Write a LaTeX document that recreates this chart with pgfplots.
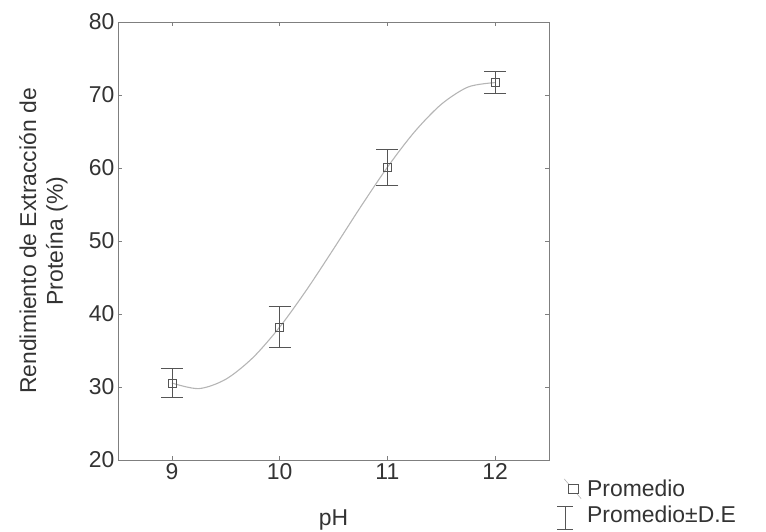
\documentclass[border=0pt]{standalone}
\usepackage{fontspec}
\setmainfont{Liberation Sans}
\usepackage{pgfplots}
\pgfplotsset{compat=1.18}
\definecolor{axisgray}{HTML}{7F7F7F}
\definecolor{txt}{HTML}{333333}
\definecolor{curvec}{HTML}{B5B5B5}
\definecolor{mk}{HTML}{555555}
\begin{document}
\begin{tikzpicture}
\useasboundingbox (-118bp,-72bp) rectangle (648bp,460bp);
\begin{axis}[
  at={(0,0)}, anchor=south west,
  scale only axis, width=431bp, height=438bp,
  xmin=8.5, xmax=12.5, ymin=20, ymax=80,
  xtick={9,10,11,12}, ytick={20,30,...,80},
  tick align=inside, major tick length=4bp,
  axis line style={axisgray, line width=0.8pt},
  tick style={axisgray, line width=0.6pt},
  font=\fontsize{23}{27}\selectfont,
  ticklabel style={txt, font=\fontsize{23}{27}\selectfont},
  /pgf/number format/assume math mode=true,
  xlabel={pH},
  ylabel={Rendimiento de Extracción de\\Proteína (\%)},
  xlabel style={at={(axis description cs:0.5,-0.137)}, anchor=center, txt},
  ylabel style={at={(axis description cs:-0.173,0.5)}, anchor=center, align=center, txt},
  legend style={at={(1.015,-0.04)}, anchor=north west, draw=none, fill=none,
    text=txt, inner sep=0pt, row sep=4pt,
    font=\fontsize{23}{27}\selectfont},
  legend cell align=left,
]
\addplot[curvec, line width=1.1pt, smooth, forget plot] coordinates {
  (9,30.55) (9.25,29.78) (9.5,31.06) (9.75,33.99) (10,38.2) (10.25,43.30)
  (10.5,48.90) (10.75,54.63) (11,60.1) (11.25,64.92) (11.5,68.72)
  (11.75,71.10) (12,71.7)
};
\addplot[only marks, mark=square, mark size=4bp,
  mark options={mk, line width=0.6pt, fill=none},
  error bars/.cd, y dir=both, y explicit,
  error bar style={mk, line width=0.6pt},
  error mark options={rotate=90, mk, mark size=11bp, line width=0.6pt},
  /pgfplots/legend image code/.code={
    \path[draw=none, fill=none] (-0.3cm,0cm) rectangle (0.74cm,0cm);
    \draw[curvec, line width=0.6pt] (0.0cm,0.35cm)--(0.6cm,-0.35cm);
    \draw[mk, line width=0.6pt, fill=white] (0.16cm,-0.17cm) rectangle (0.5cm,0.17cm);}]
  table[x=x, y=y, y error plus=ep, y error minus=em] {
  x   y     ep    em
  9   30.55 2.05  1.95
  10  38.2  2.9   2.7
  11  60.1  2.5   2.5
  12  71.7  1.5   1.4
};
\addlegendentry{Promedio}
\addlegendimage{legend image code/.code={
  \path[draw=none, fill=none] (-0.3cm,0cm) rectangle (0.74cm,0cm);
  \draw[mk, line width=0.6pt] (0.04cm,-0.5cm)--(0.04cm,0.3cm);
  \draw[mk, line width=0.6pt] (-0.24cm,0.3cm)--(0.32cm,0.3cm);
  \draw[mk, line width=0.6pt] (-0.24cm,-0.5cm)--(0.32cm,-0.5cm);}}
\addlegendentry{Promedio±D.E}
\end{axis}
\end{tikzpicture}
\end{document}
